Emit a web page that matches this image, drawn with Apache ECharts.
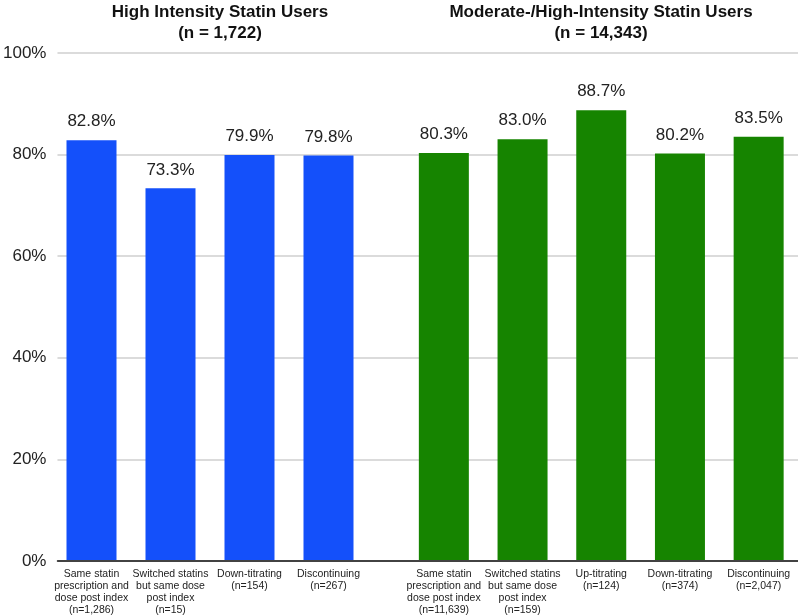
<!DOCTYPE html>
<html>
<head>
<meta charset="utf-8">
<script src="https://cdn.jsdelivr.net/npm/echarts@6/dist/echarts.min.js"></script>
<style>html,body{margin:0;padding:0;background:#fff;}#c{width:798px;height:616px;}</style>
</head>
<body>
<div id="c"></div>
<script>
var highTitle = 'High Intensity Statin Users\n(n = 1,722)';
var modTitle = 'Moderate-/High-Intensity Statin Users\n(n = 14,343)';
var highCategories = [
  'Same statin\nprescription and\ndose post index\n(n=1,286)',
  'Switched statins\nbut same dose\npost index\n(n=15)',
  'Down-titrating\n(n=154)',
  'Discontinuing\n(n=267)'
];
var highValues = [82.8, 73.3, 79.9, 79.8];
var modCategories = [
  'Same statin\nprescription and\ndose post index\n(n=11,639)',
  'Switched statins\nbut same dose\npost index\n(n=159)',
  'Up-titrating\n(n=124)',
  'Down-titrating\n(n=374)',
  'Discontinuing\n(n=2,047)'
];
var modValues = [80.3, 83.0, 88.7, 80.2, 83.5];
var yTicks = [0, 20, 40, 60, 80, 100];

(function () {
var FONT = '"Liberation Sans", Arial, sans-serif';
var chart = echarts.init(document.getElementById('c'), null, {renderer: 'canvas'});
var gTop = 53, gBottom = 616 - 561;

function hiddenY(idx) {
  return {type: 'value', gridIndex: idx, min: 0, max: 100, interval: 20, show: false, splitLine: {show: false}};
}
function catX(idx, cats) {
  return {
    type: 'category', gridIndex: idx, data: cats,
    axisLine: {show: false}, axisTick: {show: false},
    axisLabel: {interval: 0, color: '#222', fontFamily: FONT, fontSize: 10.5, lineHeight: 12, margin: 8}
  };
}
function barSeries(idx, vals, color) {
  return {
    type: 'bar', xAxisIndex: idx, yAxisIndex: idx, data: vals, barWidth: 50,
    itemStyle: {color: color},
    label: {show: true, position: 'top', distance: 10, color: '#222', fontFamily: FONT, fontSize: 17,
      formatter: function (p) { return p.value.toFixed(1) + '%'; }},
    silent: true
  };
}

chart.setOption({
  animation: false,
  title: [
    {text: highTitle, left: 220, top: 2, padding: 0, textAlign: 'center',
      textStyle: {fontFamily: FONT, fontSize: 17, fontWeight: 'bold', color: '#111', lineHeight: 21}},
    {text: modTitle, left: 601, top: 2, padding: 0, textAlign: 'center',
      textStyle: {fontFamily: FONT, fontSize: 17, fontWeight: 'bold', color: '#111', lineHeight: 21}}
  ],
  grid: [
    {left: 52, right: 0, top: gTop, bottom: gBottom},
    {left: 52, width: 316, top: gTop, bottom: gBottom},
    {left: 404.5, right: 0, top: gTop, bottom: gBottom}
  ],
  xAxis: [
    {type: 'category', gridIndex: 0, data: [''], axisLine: {lineStyle: {color: '#111', width: 1.5}},
      axisTick: {show: false}, axisLabel: {show: false}},
    catX(1, highCategories),
    catX(2, modCategories)
  ],
  yAxis: [
    {type: 'value', gridIndex: 0, min: 0, max: 100, interval: 20,
      axisLine: {show: false}, axisTick: {show: false},
      axisLabel: {color: '#222', fontFamily: FONT, fontSize: 17, margin: 11,
        formatter: function (v) { return yTicks.indexOf(v) >= 0 ? v + '%' : ''; }},
      splitLine: {lineStyle: {color: '#cfcfcf', width: 1.5}}},
    hiddenY(1),
    hiddenY(2)
  ],
  series: [
    barSeries(1, highValues, '#1450fa'),
    barSeries(2, modValues, '#168400')
  ]
});
})();
</script>
</body>
</html>
